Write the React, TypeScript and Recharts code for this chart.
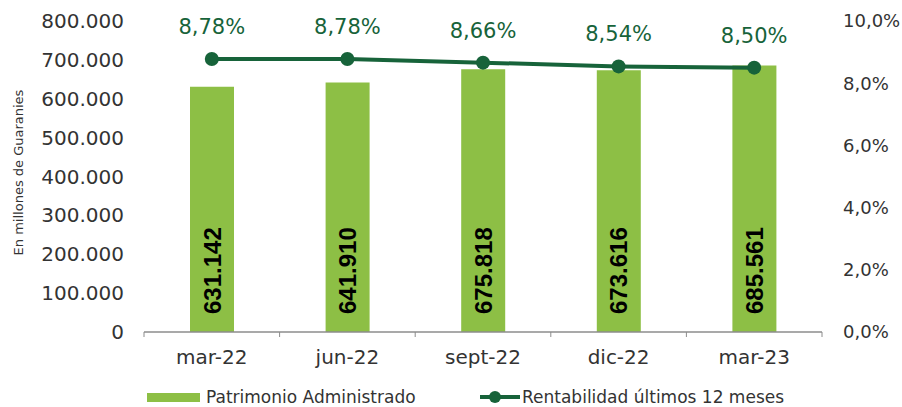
import React from 'react';
import { ComposedChart, Bar, Line, XAxis, YAxis, LabelList } from 'recharts';

const categories = ['mar-22', 'jun-22', 'sept-22', 'dic-22', 'mar-23'];
const patrimonio = [631142, 641910, 675818, 673616, 685561];
const rentabilidad = [8.78, 8.78, 8.66, 8.54, 8.5];
const leftTicks = [0, 100000, 200000, 300000, 400000, 500000, 600000, 700000, 800000];
const rightTicks = [0, 2, 4, 6, 8, 10];

const data = categories.map((c, i) => ({ cat: c, patrimonio: patrimonio[i], rentabilidad: rentabilidad[i] }));

const BAR = '#8DBF45';
const GREEN = '#17633A';
const FONT = '"DejaVu Sans", sans-serif';
const TEXT = '#333333';
const AXIS = '#8C8C8C';

const fmtThousands = (v: number) => String(Math.round(v)).replace(/\B(?=(\d{3})+(?!\d))/g, '.');
const fmtPct = (v: number) => v.toFixed(1).replace('.', ',') + '%';
const fmtPct2 = (v: number) => v.toFixed(2).replace('.', ',') + '%';

const XTick = (props: any) => {
  const { x, y, payload, index, visibleTicksCount } = props;
  const half = payload && payload.offset ? payload.offset : 67.8;
  const axisY = y - 8;
  const count = visibleTicksCount || categories.length;
  return (
    <g>
      <line x1={x - half} x2={x - half} y1={axisY} y2={axisY + 5} stroke={AXIS} strokeWidth={1} />
      {index === count - 1 && (
        <line x1={x + half} x2={x + half} y1={axisY} y2={axisY + 5} stroke={AXIS} strokeWidth={1} />
      )}
      <text x={x} y={axisY + 25} textAnchor="middle" dominantBaseline="central" fontFamily={FONT} fontSize={20} fill={TEXT}>
        {payload.value}
      </text>
    </g>
  );
};

const BarValueLabel = (props: any) => {
  const { x, y, width, height, value } = props;
  const cx = x + width / 2;
  const by = y + height - 18;
  return (
    <text
      x={cx}
      y={by}
      transform={`rotate(-90, ${cx}, ${by})`}
      textAnchor="start"
      dominantBaseline="central"
      fontFamily='"Liberation Sans", Arial, sans-serif'
      fontWeight="bold"
      fontSize={24}
      fill="#000"
    >
      {fmtThousands(value)}
    </text>
  );
};

const LineValueLabel = (props: any) => {
  const { x, y, value } = props;
  return (
    <text x={x} y={y - 25} textAnchor="middle" fontFamily={FONT} fontSize={21} fill={GREEN}>
      {fmtPct2(value)}
    </text>
  );
};

const YTitle = (props: any) => {
  const vb = props.viewBox || { x: 0, y: 21, width: 144, height: 311 };
  const cx = vb.x + 18;
  const cy = vb.y + vb.height / 2 - 4;
  return (
    <text
      x={cx}
      y={cy}
      transform={`rotate(-90, ${cx}, ${cy})`}
      textAnchor="middle"
      dominantBaseline="central"
      fontFamily={FONT}
      fontSize={13}
      fill={TEXT}
    >
      En millones de Guaranies
    </text>
  );
};

export default function App() {
  return (
    <div style={{ position: 'absolute', left: 0, top: 0, width: 902, height: 407, background: '#fff' }}>
      <ComposedChart width={902} height={407} data={data} margin={{ top: 21, right: 0, bottom: 0, left: 0 }}>
        <XAxis
          dataKey="cat"
          axisLine={{ stroke: AXIS, strokeWidth: 1.5 }}
          tickLine={false}
          tick={<XTick />}
          interval={0}
          height={75}
        />
        <YAxis
          yAxisId="left"
          orientation="left"
          width={144}
          domain={[0, 800000]}
          ticks={leftTicks}
          tickFormatter={fmtThousands}
          axisLine={false}
          tickLine={false}
          tickMargin={14}
          tick={{ fontFamily: FONT, fontSize: 20, fill: TEXT }}
          label={{ content: <YTitle /> }}
        />
        <YAxis
          yAxisId="right"
          orientation="right"
          width={80}
          domain={[0, 10]}
          ticks={rightTicks}
          tickFormatter={fmtPct}
          axisLine={false}
          tickLine={false}
          tickMargin={15}
          tick={{ fontFamily: FONT, fontSize: 18, fill: TEXT, textAnchor: 'start' }}
        />
        <Bar yAxisId="left" dataKey="patrimonio" fill={BAR} barSize={44} isAnimationActive={false}>
          <LabelList dataKey="patrimonio" content={<BarValueLabel />} />
        </Bar>
        <Line
          yAxisId="right"
          dataKey="rentabilidad"
          stroke={GREEN}
          strokeWidth={4}
          dot={{ r: 7, fill: GREEN, stroke: GREEN, strokeWidth: 0 }}
          isAnimationActive={false}
        >
          <LabelList dataKey="rentabilidad" content={<LineValueLabel />} />
        </Line>
      </ComposedChart>
      <div style={{ position: 'absolute', left: 147, top: 386, height: 22, display: 'flex', alignItems: 'center', fontFamily: FONT, fontSize: 17, color: TEXT, whiteSpace: 'nowrap' }}>
        <span style={{ display: 'inline-block', width: 53, height: 9, background: BAR, marginRight: 6 }} />
        <span>Patrimonio Administrado</span>
      </div>
      <div style={{ position: 'absolute', left: 480, top: 386, height: 22, display: 'flex', alignItems: 'center', fontFamily: FONT, fontSize: 17, color: TEXT, whiteSpace: 'nowrap' }}>
        <svg width={40} height={16} style={{ marginRight: 2 }}>
          <line x1={0} x2={40} y1={8} y2={8} stroke={GREEN} strokeWidth={4} />
          <circle cx={15} cy={8} r={6} fill={GREEN} />
        </svg>
        <span>Rentabilidad últimos 12 meses</span>
      </div>
    </div>
  );
}
